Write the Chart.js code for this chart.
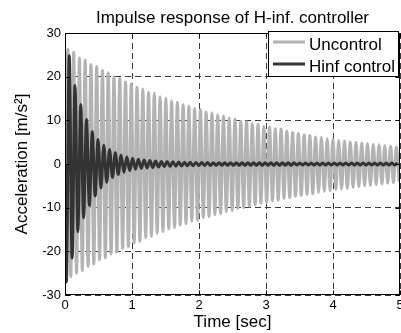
<!DOCTYPE html>
<html>
<head>
<meta charset="utf-8">
<script src="https://cdn.jsdelivr.net/npm/chart.js@4/dist/chart.umd.min.js"></script>
<style>
  html, body { margin: 0; padding: 0; background: #fff; }
  #graphCanvas { display: block; }
</style>
</head>
<body>
<canvas id="graphCanvas" width="401" height="333"></canvas>
<script>
// text
var chartTitle = 'Impulse response of H-inf. controller';
var xTitle = 'Time [sec]';
var yTitle = 'Acceleration [m/s\u00B2]';
var seriesNames = ['Uncontrol', 'Hinf control'];

// axis ranges / ticks
var xTicks = [0, 1, 2, 3, 4, 5];
var yTicks = [-30, -20, -10, 0, 10, 20, 30];

// time between neighbouring peaks (half an oscillation)
var peakStep = 0.043;
var hinfStart = 0.02;

// Uncontrol: positive and negative peaks, one per oscillation
var unconUpper = [26.3, 25.6, 24.3, 23.8, 22.8, 22.3, 21.4, 20.9, 20.0, 19.6,
    18.8, 18.4, 17.6, 17.2, 16.5, 16.2, 15.4, 15.1, 14.5, 14.2,
    13.6, 13.3, 12.7, 12.5, 11.9, 11.7, 11.2, 11.0, 10.5, 10.3,
    9.8, 9.7, 9.2, 9.1, 8.6, 8.5, 8.1, 8.0, 7.5, 7.2,
    7.0, 6.7, 6.5, 6.2, 6.1, 5.8, 5.7, 5.4, 5.3, 5.1,
    5.0, 4.8, 4.7, 4.5, 4.4, 4.2, 4.1, 3.9];
var unconLower = [-25.8, -25.0, -24.4, -23.4, -22.9, -21.9, -21.5, -20.6, -20.2, -19.3,
    -18.9, -18.1, -17.7, -16.9, -16.6, -15.9, -15.5, -14.9, -14.6, -14.0,
    -13.7, -13.1, -12.9, -12.3, -12.1, -11.6, -11.4, -10.9, -10.7, -10.2,
    -10.0, -9.6, -9.4, -9.0, -8.8, -8.4, -8.3, -7.9, -7.7, -7.4,
    -7.2, -6.9, -6.8, -6.5, -6.3, -6.1, -5.9, -5.7, -5.6, -5.4,
    -5.2, -5.0, -4.9, -4.7, -4.6, -4.4, -4.3, -4.1];

// Hinf control: negative peak comes first
var hinfLower = [-27.0, -21.5, -15.5, -12.3, -9.5, -7.3, -5.5, -4.2, -3.1, -2.4,
    -1.9, -1.5, -1.2, -1.0, -0.9, -0.8, -0.7, -0.6, -0.55, -0.5,
    -0.45, -0.4, -0.4, -0.35, -0.35, -0.35, -0.3, -0.3, -0.3, -0.3,
    -0.3, -0.3, -0.3, -0.3, -0.3, -0.3, -0.3, -0.3, -0.3, -0.3,
    -0.25, -0.25, -0.25, -0.25, -0.25, -0.25, -0.25, -0.25, -0.25, -0.25,
    -0.25, -0.25, -0.25, -0.25, -0.25, -0.25, -0.25, -0.25];
var hinfUpper = [24.8, 18.0, 13.6, 10.2, 7.4, 5.6, 4.3, 3.3, 2.6, 2.0,
    1.6, 1.3, 1.1, 0.9, 0.8, 0.7, 0.6, 0.55, 0.5, 0.45,
    0.4, 0.4, 0.35, 0.35, 0.35, 0.3, 0.3, 0.3, 0.3, 0.3,
    0.3, 0.3, 0.3, 0.3, 0.3, 0.3, 0.3, 0.3, 0.3, 0.3,
    0.25, 0.25, 0.25, 0.25, 0.25, 0.25, 0.25, 0.25, 0.25, 0.25,
    0.25, 0.25, 0.25, 0.25, 0.25, 0.25, 0.25, 0.25];

var FONT = '"Liberation Sans", Arial, Helvetica, sans-serif';

// put the peaks in time order: first, second, first, second ...
function buildPoints(t0, first, second) {
    var pts = [{ x: 0, y: 0 }];
    var t = t0;
    for (var i = 0; i < first.length; i++) {
        pts.push({ x: t, y: first[i] });
        t += peakStep;
        if (i < second.length) {
            pts.push({ x: t, y: second[i] });
            t += peakStep;
        }
    }
    return pts;
}

// frame, inward tick marks, title and boxed legend like the matlab figure
var matlabLook = {
    id: 'matlabLook',
    afterDraw: function (chart) {
        var ctx = chart.ctx;
        var a = chart.chartArea;
        var xs = chart.scales.x;
        var ys = chart.scales.y;
        var L = Math.round(a.left) + 0.5, R = Math.round(a.right) - 0.5;
        var T = Math.round(a.top) + 0.5, B = Math.round(a.bottom) - 0.5;

        ctx.save();
        ctx.strokeStyle = '#000';
        ctx.lineWidth = 1;
        ctx.beginPath();
        xTicks.forEach(function (v) {
            var px = Math.round(xs.getPixelForValue(v)) + 0.5;
            ctx.moveTo(px, B); ctx.lineTo(px, B - 4);
            ctx.moveTo(px, T); ctx.lineTo(px, T + 4);
        });
        yTicks.forEach(function (v) {
            var py = Math.round(ys.getPixelForValue(v)) + 0.5;
            ctx.moveTo(L, py); ctx.lineTo(L + 4, py);
            ctx.moveTo(R, py); ctx.lineTo(R - 4, py);
        });
        ctx.stroke();
        ctx.strokeRect(L, T, R - L, B - T);

        // title
        ctx.fillStyle = '#000';
        ctx.font = '17px ' + FONT;
        ctx.textAlign = 'center';
        ctx.textBaseline = 'alphabetic';
        ctx.fillText(chartTitle, (a.left + a.right) / 2, 23);

        // legend
        var bx = 268.5, by = 31.5, bw = 130, bh = 45;
        ctx.fillStyle = '#fff';
        ctx.fillRect(bx, by, bw, bh);
        ctx.strokeRect(bx, by, bw, bh);
        ctx.textAlign = 'left';
        chart.data.datasets.forEach(function (ds, i) {
            var ly = 42 + i * 22;
            ctx.strokeStyle = ds.borderColor;
            ctx.lineWidth = 3;
            ctx.beginPath();
            ctx.moveTo(273, ly);
            ctx.lineTo(305, ly);
            ctx.stroke();
            ctx.fillStyle = '#000';
            ctx.fillText(ds.label, 309, ly + 8);
        });
        ctx.restore();
    }
};

var chartdata = {
    datasets: [
        {
            label: seriesNames[0],
            data: buildPoints(peakStep, unconUpper, unconLower),
            borderColor: '#b3b3b3',
            borderWidth: 3,
            order: 2
        },
        {
            label: seriesNames[1],
            data: buildPoints(hinfStart, hinfLower, hinfUpper),
            borderColor: '#333333',
            borderWidth: 3,
            order: 1
        }
    ]
};

var graphTarget = document.getElementById('graphCanvas');

var LineGraph = new Chart(graphTarget, {
    type: 'line',
    data: chartdata,
    plugins: [matlabLook],
    options: {
        responsive: false,
        animation: false,
        devicePixelRatio: 1,
        layout: { padding: { top: 33, right: 1, left: 0, bottom: 0 } },
        elements: {
            point: { radius: 0 },
            line: { cubicInterpolationMode: 'monotone', borderJoinStyle: 'round', fill: false }
        },
        plugins: {
            legend: { display: false },
            title: { display: false },
            tooltip: { enabled: false }
        },
        scales: {
            x: {
                type: 'linear',
                min: 0,
                max: 5,
                afterBuildTicks: function (s) { s.ticks = xTicks.map(function (v) { return { value: v }; }); },
                afterFit: function (s) { s.height = 38; s.paddingLeft = 0; s.paddingRight = 0; },
                grid: { color: '#3a3a3a', drawTicks: false },
                border: { display: false, dash: [6, 4] },
                ticks: { color: '#000', font: { family: FONT, size: 13 }, padding: 3, maxRotation: 0 },
                title: { display: true, text: xTitle, color: '#000', font: { family: FONT, size: 17 }, padding: { top: 0, bottom: 0 } }
            },
            y: {
                min: -30,
                max: 30,
                afterBuildTicks: function (s) { s.ticks = yTicks.map(function (v) { return { value: v }; }); },
                afterFit: function (s) { s.width = 65; s.paddingTop = 0; s.paddingBottom = 0; },
                grid: { color: '#3a3a3a', drawTicks: false },
                border: { display: false, dash: [6, 4] },
                ticks: { color: '#000', font: { family: FONT, size: 13 }, padding: 4 },
                title: { display: true, text: yTitle, color: '#000', font: { family: FONT, size: 17 }, padding: { top: 12, bottom: 0 } }
            }
        }
    }
});
</script>
</body>
</html>
